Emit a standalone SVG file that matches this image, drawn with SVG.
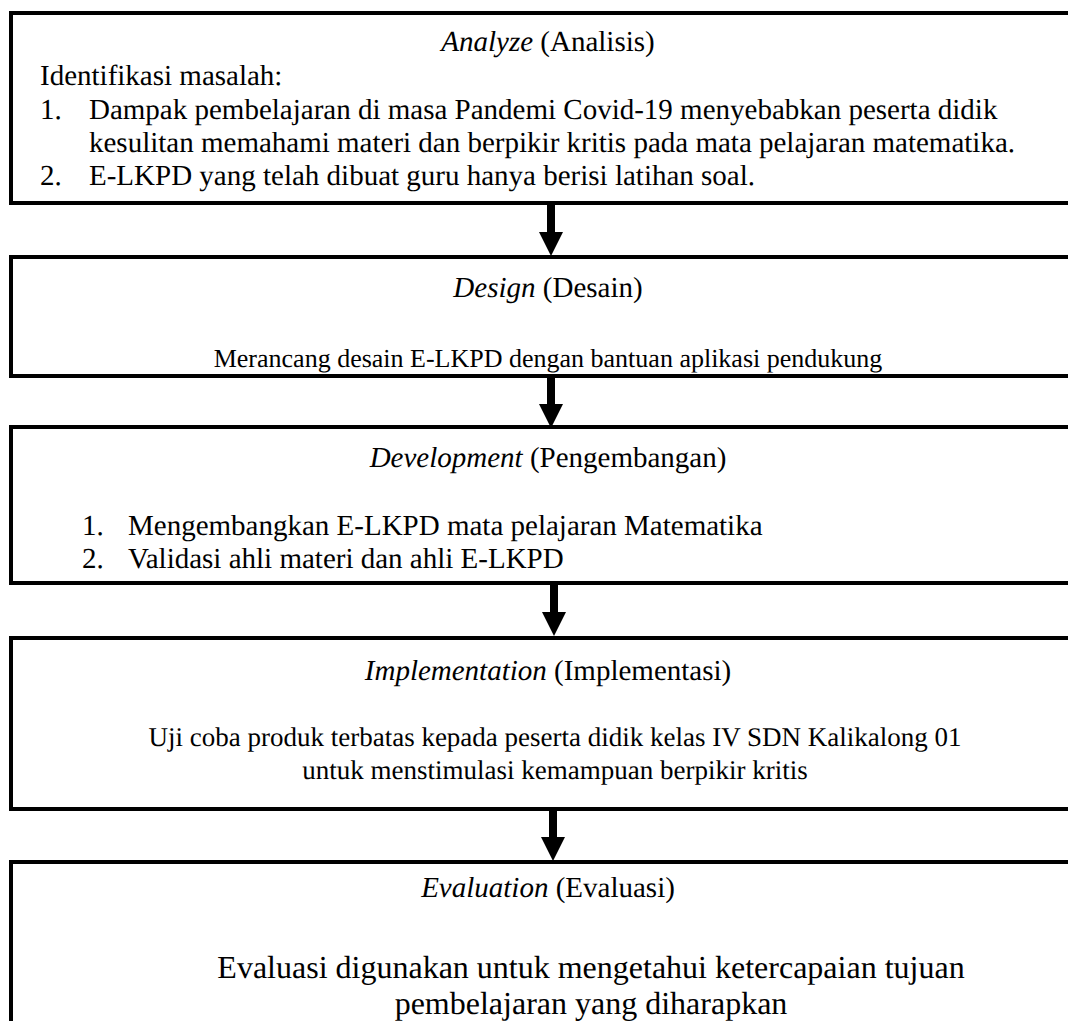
<svg xmlns="http://www.w3.org/2000/svg" width="1068" height="1021" viewBox="0 0 1068 1021">
<style>
  .box { fill: #ffffff; stroke: #000000; stroke-width: 4; }
  .t { font-family: "Liberation Serif", "Times New Roman", serif; font-size: 29px; fill: #000000; text-rendering: geometricPrecision; }
  .c { text-anchor: middle; }
  .i { font-style: italic; }
  .arrow { fill: #000000; }
</style>
<defs>
  <clipPath id="designClip"><rect x="0" y="257" width="1068" height="117"/></clipPath>
</defs>
<rect x="0" y="0" width="1068" height="1021" fill="#ffffff"/>
<g id="connectors">
  <polygon class="arrow" points="547,204 555,204 555,232 563,232 551,256 539,232 547,232"/>
  <polygon class="arrow" points="547,376 555,376 555,404 563,404 551,428 539,404 547,404"/>
  <polygon class="arrow" points="550,583 558,583 558,612 566,612 554,636 542,612 550,612"/>
  <polygon class="arrow" points="549,809 557,809 557,837 565,837 553,861 541,837 549,837"/>
</g>
<g id="analyze">
  <rect class="box" x="11" y="13" width="1090" height="190"/>
  <text class="t c" x="548" y="51"><tspan class="i">Analyze</tspan> (Analisis)</text>
  <text class="t" x="40" y="85">Identifikasi masalah:</text>
  <text class="t" x="40" y="119">1.</text>
  <text class="t" x="89" y="119">Dampak pembelajaran di masa Pandemi Covid-19 menyebabkan peserta didik</text>
  <text class="t" x="89" y="152">kesulitan memahami materi dan berpikir kritis pada mata pelajaran matematika.</text>
  <text class="t" x="40" y="185">2.</text>
  <text class="t" x="89" y="185">E-LKPD yang telah dibuat guru hanya berisi latihan soal.</text>
</g>
<g id="design">
  <rect class="box" x="11" y="257" width="1090" height="119"/>
  <text class="t c" x="548" y="297"><tspan class="i">Design</tspan> (Desain)</text>
  <text class="t c" x="548" y="367" style="font-size:26px" clip-path="url(#designClip)">Merancang desain E-LKPD dengan bantuan aplikasi pendukung</text>
</g>
<g id="development">
  <rect class="box" x="11" y="427" width="1090" height="156"/>
  <text class="t c" x="548" y="467"><tspan class="i">Development</tspan> (Pengembangan)</text>
  <text class="t" x="82" y="535">1.</text>
  <text class="t" x="128" y="535">Mengembangkan E-LKPD mata pelajaran Matematika</text>
  <text class="t" x="82" y="568">2.</text>
  <text class="t" x="128" y="568">Validasi ahli materi dan ahli E-LKPD</text>
</g>
<g id="implementation">
  <rect class="box" x="11" y="638" width="1090" height="171"/>
  <text class="t c" x="548" y="680"><tspan class="i">Implementation</tspan> (Implementasi)</text>
  <text class="t c" x="555" y="746" style="font-size:27px">Uji coba produk terbatas kepada peserta didik kelas IV SDN Kalikalong 01</text>
  <text class="t c" x="555" y="779" style="font-size:27px">untuk menstimulasi kemampuan berpikir kritis</text>
</g>
<g id="evaluation">
  <rect class="box" x="11" y="862" width="1090" height="200"/>
  <text class="t c" x="548" y="897"><tspan class="i">Evaluation</tspan> (Evaluasi)</text>
  <text class="t c" x="591" y="978" style="font-size:32px">Evaluasi digunakan untuk mengetahui ketercapaian tujuan</text>
  <text class="t c" x="591" y="1014" style="font-size:32px">pembelajaran yang diharapkan</text>
</g>
</svg>
